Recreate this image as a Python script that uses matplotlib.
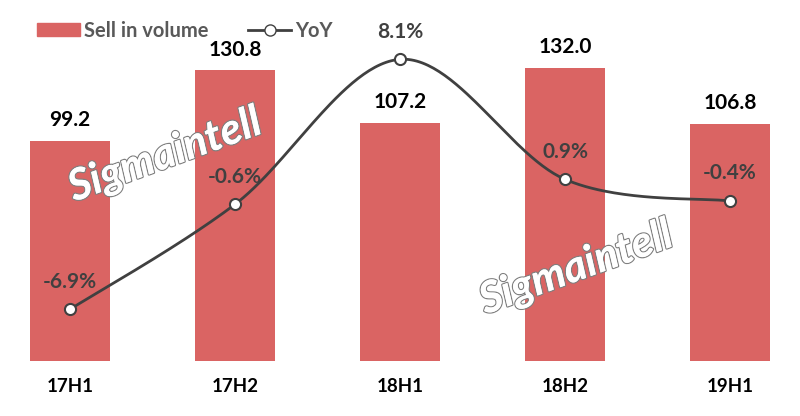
import matplotlib
matplotlib.use("Agg")
import matplotlib.pyplot as plt
import matplotlib.patheffects as pe
from matplotlib.lines import Line2D
from matplotlib.patches import Patch
import numpy as np

# chart data
periods = ["17H1", "17H2", "18H1", "18H2", "19H1"]
sell_volume = [99.2, 130.8, 107.2, 132.0, 106.8]
yoy = [-6.9, -0.6, 8.1, 0.9, -0.4]

BAR_RED = "#DA6463"
LINE_GRAY = "#404040"

plt.rcParams['font.family'] = ['Lato', 'DejaVu Sans']


def smooth_curve(xs, ys, n=60):
    # excel-like smoothed line (catmull-rom as cubic bezier)
    pts = np.column_stack([xs, ys]).astype(float)
    padded = np.vstack([pts[0], pts, pts[-1]])
    out = []
    t = np.linspace(0, 1, n)[:, None]
    for i in range(len(pts) - 1):
        p0, p1, p2, p3 = padded[i], padded[i + 1], padded[i + 2], padded[i + 3]
        c1 = p1 + (p2 - p0) / 6
        c2 = p2 - (p3 - p1) / 6
        seg = ((1 - t) ** 3) * p1 + 3 * ((1 - t) ** 2) * t * c1 + 3 * (1 - t) * t ** 2 * c2 + t ** 3 * p2
        out.append(seg)
    seg = np.vstack(out)
    return seg[:, 0], seg[:, 1]


fig = plt.figure(figsize=(8, 4.16), dpi=100)
ax = fig.add_axes([0, 55 / 416, 1, 360 / 416])
x = np.arange(len(periods))

ax.bar(x, sell_volume, width=0.48, color=BAR_RED, zorder=2)
ax.set_ylim(0, 162)
ax.set_xlim(-0.424, 4.424)
for xi, v in zip(x, sell_volume):
    ax.annotate(f"{v:.1f}", (xi, v), xytext=(0, 15), textcoords="offset points",
                ha="center", va="center", fontsize=15, fontweight="bold", color="black")

ax.set_xticks(x)
ax.set_xticklabels(periods, fontsize=13.5, fontweight="bold", color="black")
ax.tick_params(axis="x", length=0, pad=12)
ax.set_yticks([])
for s in ax.spines.values():
    s.set_visible(False)

# YoY on a secondary axis
ax2 = ax.twinx()
ax2.set_ylim(-10, 11.6)
ax2.set_yticks([])
for s in ax2.spines.values():
    s.set_visible(False)
sx, sy = smooth_curve(x, yoy)
ax2.plot(sx, sy, color=LINE_GRAY, lw=2, zorder=3)
ax2.plot(x, yoy, ls="none", marker="o", ms=8, mfc="white", mec=LINE_GRAY, mew=1.5, zorder=4)
for xi, v in zip(x, yoy):
    ax2.annotate(f"{v:.1f}%", (xi, v), xytext=(0, 20), textcoords="offset points",
                 ha="center", va="center", fontsize=15, fontweight="bold", color=LINE_GRAY)

# watermarks
for wx, wy in [(0.206, 0.627), (0.72, 0.356)]:
    fig.text(wx, wy, "Sigmaintell", rotation=20, ha="center", va="center",
             fontsize=31, fontweight="bold", fontstyle="italic", color="white",
             path_effects=[pe.withStroke(linewidth=1.8, foreground="#7f7f7f"), pe.Normal()],
             zorder=5)

handles = [Patch(color=BAR_RED),
           Line2D([], [], color=LINE_GRAY, lw=2, marker="o", ms=8, mfc="white", mec=LINE_GRAY)]
leg = ax.legend(handles, ["Sell in volume", "YoY"], loc="upper left", bbox_to_anchor=(0.024, 0.995),
                ncol=2, frameon=False, handlelength=2.1, handleheight=0.6,
                columnspacing=2.0, handletextpad=0.2, prop={"weight": "bold", "size": 14.5})
for t in leg.get_texts():
    t.set_color("#595959")

fig.savefig("out.png", dpi=100)
